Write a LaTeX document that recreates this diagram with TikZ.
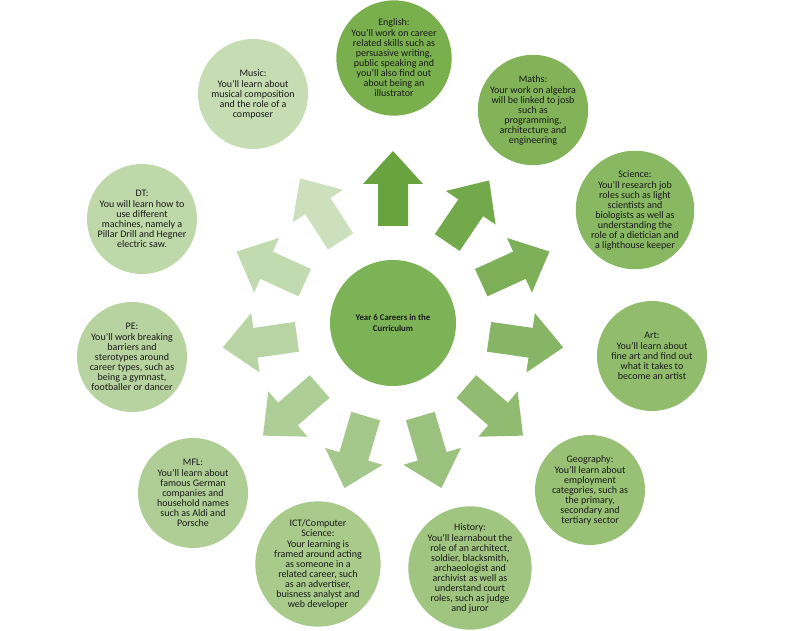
\documentclass[tikz,border=0pt]{standalone}
\usepackage{fontspec}
\setmainfont{Carlito}
\definecolor{cdark}{HTML}{7AAF4E}
\definecolor{clight}{HTML}{C6DCB3}
\definecolor{adark}{HTML}{68A33F}
\definecolor{alight}{HTML}{CCE0BD}
\definecolor{ccenter}{HTML}{7DB357}
\definecolor{tcol}{HTML}{1A1A1A}
\tikzset{
  outer/.style={circle, minimum size=110pt, inner sep=0pt, align=center,
    font=\fontsize{10}{10}\selectfont, text=tcol},
  hub/.style={circle, fill=ccenter, minimum size=126pt, inner sep=0pt, align=center,
    font=\bfseries\fontsize{8.8}{10.2}\selectfont, text=tcol},
}
\begin{document}
\begin{tikzpicture}[x=1pt,y=1pt]
\useasboundingbox (0,0) rectangle (800,631);
\node[hub] (hub) at (393,308) {Year 6 Careers in the\\Curriculum};
% block arrows
\foreach \i/\ang in {0/90,1/56,2/24.55,3/-8.18,4/-40.91,5/-73.64,6/-106.36,7/-139.09,8/-171.82,9/155.45,10/122.73}{
  \pgfmathsetmacro\p{\i*10}
  \begin{scope}[shift={(hub.center)}, rotate=\ang]
    \fill[alight!\p!adark] (97,-15) -- (139,-15) -- (139,-30) -- (172,0) -- (139,30) -- (139,15) -- (97,15) -- cycle;
  \end{scope}
}
\node[outer, fill=clight!0!cdark] (eng) at (394,573) {English:\\[1pt]You'll work on career\\related skills such as\\persuasive writing,\\public speaking and\\you'll also find out\\about being an\\illustrator};
\node[outer, fill=clight!10!cdark] (mat) at (533,521) {Maths:\\[1pt]Your work on algebra\\will be linked to josb\\such as\\programming,\\architecture and\\engineering};
\node[outer, fill=clight!20!cdark] (sci) at (635,421) {Science:\\[1pt]You'll research job\\roles such as light\\scientists and\\biologists as well as\\understanding the\\role of a dietician and\\a lighthouse keeper};
\node[outer, fill=clight!30!cdark] (art) at (652,275) {Art:\\[1pt]You'll learn about\\fine art and find out\\what it takes to\\become an artist};
\node[outer, fill=clight!40!cdark] (geo) at (590,141) {Geography:\\[1pt]You'll learn about\\employment\\categories, such as\\the primary,\\secondary and\\tertiary sector};
\node[outer, fill=clight!50!cdark] (his) at (470,63) {History:\\[1pt]You'll learnabout the\\role of an architect,\\soldier, blacksmith,\\archaeologist and\\archivist as well as\\understand court\\roles, such as judge\\and juror};
\node[outer, fill=clight!60!cdark] (ict) at (318,67) {ICT/Computer\\Science:\\[1pt]Your learning is\\framed around acting\\as someone in a\\related career, such\\as an advertiser,\\buisness analyst and\\web developer};
\node[outer, fill=clight!70!cdark] (mfl) at (193,138) {MFL:\\[1pt]You'll learn about\\famous German\\companies and\\household names\\such as Aldi and\\Porsche};
\node[outer, fill=clight!80!cdark] (pe) at (132,274) {PE:\\[1pt]You'll work breaking\\barriers and\\sterotypes around\\career types, such as\\being a gymnast,\\footballer or dancer};
\node[outer, fill=clight!90!cdark] (dt) at (142,412) {DT:\\[1pt]You will learn how to\\use different\\machines, namely a\\Pillar Drill and Hegner\\electric saw.};
\node[outer, fill=clight!100!cdark] (mus) at (253,537) {Music:\\[1pt]You'll learn about\\musical composition\\and the role of a\\composer};
\end{tikzpicture}
\end{document}
